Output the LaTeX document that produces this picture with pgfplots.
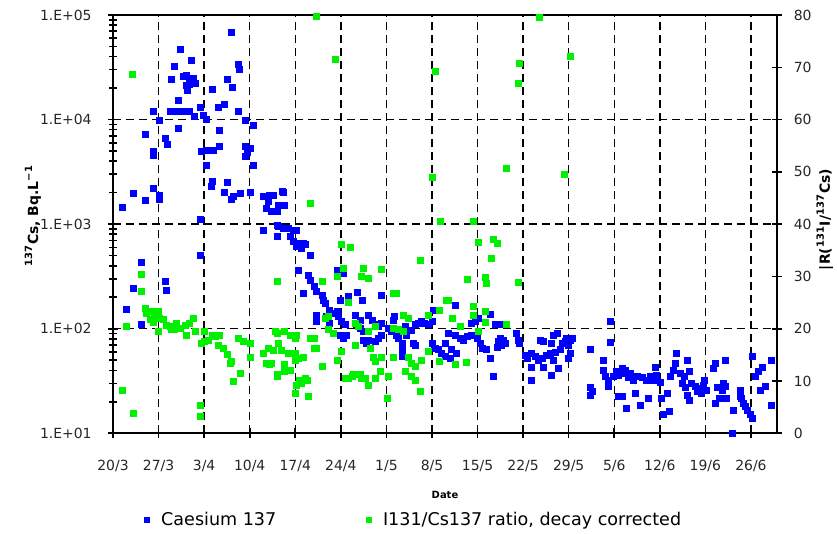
\documentclass[border=0pt]{standalone}
\usepackage{fontspec}
\setmainfont{DejaVu Sans}
\usepackage{pgfplots}
\usepackage{pgfplotstable}
\pgfplotsset{compat=1.18}
\definecolor{cblue}{RGB}{0,0,255}
\definecolor{cgreen}{RGB}{0,240,0}

% Caesium 137 (Bq/L), x = days after 20/3
\pgfplotstableread{
d v
1.5 1460
3.1 1950
5.0 1680
6.2 2200
7.2 1900
7.2 1730
4.3 430
3.1 245
2.1 154
4.3 109
5.0 7230
6.2 12000
7.2 9900
6.2 4950
6.2 4590
8.1 6620
8.4 5800
10.1 8260
10.1 15400
9.0 24300
9.4 32000
10.3 47000
12.1 36600
10.8 25800
11.2 26700
11.8 23900
12.3 25000
11.2 21400
11.8 21800
12.6 22200
11.5 19000
8.8 12100
9.8 12100
10.3 12100
11.1 12100
11.8 12100
12.5 10800
13.4 13200
13.9 11000
14.4 10000
13.6 4950
14.4 5120
15.4 5120
16.4 5500
14.4 3680
16.3 7800
16.2 13200
17.1 14000
15.3 19500
17.5 24300
18.4 20500
18.2 67700
19.2 34000
19.4 30000
19.2 11900
20.4 9900
21.5 8800
20.3 5500
21.1 5300
20.3 4400
21.5 3680
20.6 4900
15.3 2590
15.1 2320
17.5 2480
17.1 2010
18.2 1730
18.5 1830
19.5 1950
21.1 2010
13.4 1100
13.4 507
8.1 286
8.2 234
23.1 1830
24.1 1900
23.9 1640
23.6 1410
24.4 1315
25.2 1315
26.2 2010
26.4 1520
24.7 1900
25.4 1520
23.1 865
25.2 982
25.2 760
26.0 2050
25.4 950
26.2 910
26.9 910
27.7 880
28.2 880
27.2 760
27.7 680
28.2 658
28.7 658
29.2 658
28.2 610
29.0 590
29.5 640
30.3 507
28.5 365
30.0 325
30.3 290
29.2 220
31.0 253
31.3 225
32.1 210
32.3 188
32.6 175
33.3 151
33.6 140
34.4 365
35.4 340
34.9 188
36.2 203
37.5 222
38.3 188
41.3 207
31.3 135
31.3 117
32.8 130
33.3 112
34.4 145
34.6 130
35.1 117
35.7 109
34.9 87
35.4 81
35.9 87
37.2 135
38.0 121
37.4 109
38.0 101
38.5 94
39.2 135
39.8 121
40.3 109
40.8 105
41.3 113
39.2 78
40.3 76
40.8 81
41.3 87
38.5 78
39.0 73
42.3 101
42.8 94
43.1 121
43.3 130
43.6 87
43.8 81
44.4 73
44.4 63
44.4 54
44.9 105
45.4 97
45.9 97
45.1 87
46.4 109
46.9 113
47.4 117
47.9 113
48.5 109
49.0 117
49.2 151
49.0 73
49.5 65
50.0 63
50.5 58
51.0 73
46.1 73
46.4 70
52.6 167
51.5 90
52.6 87
53.3 81
53.8 78
54.4 84
55.1 87
55.9 81
56.4 73
56.7 65
57.4 63
57.9 52
51.0 54
51.8 52
52.0 63
52.8 58
55.4 135
55.6 117
56.1 125
55.1 113
57.9 138
58.7 109
59.5 109
58.4 35
59.0 67
59.5 81
60.0 78
60.3 73
59.2 76
59.7 70
62.0 90
62.3 78
62.5 73
63.3 56
63.6 52
64.3 43
64.3 58
64.9 54
65.4 50
65.9 52
66.1 43
66.6 56
67.2 58
67.7 50
67.9 60
68.7 63
69.0 73
69.5 76
69.7 81
70.2 78
70.5 81
70.0 70
67.4 73
67.7 87
68.2 90
65.6 78
66.1 76
64.2 32.3
67.3 36
68.4 42
70.0 52
70.2 58
73.3 63
73.3 27.5
73.3 23.2
73.6 25
76.4 117
76.4 74
75.4 50
75.4 40
75.6 35
76.1 32
76.1 28
76.9 35
77.4 39
77.7 22.5
78.2 42
78.4 37
77.7 36
79.2 34
80.0 32
80.5 35
81.3 34
82.0 32
82.5 35
83.0 32
83.5 36
83.3 43
79.5 37
78.7 40
78.2 22.5
78.9 17.3
80.2 24
81.0 18.6
82.3 21.5
84.1 31
84.3 21.5
84.6 15
85.1 24
85.4 16.2
85.6 35
86.1 40
86.4 47
86.6 58
87.1 37
87.7 35
87.4 30
87.9 27.5
88.2 23
88.5 20.8
88.2 50
88.5 39
88.9 30
89.4 28
89.7 25
90.2 27
90.4 24
90.7 29
90.9 32
91.2 26
92.3 42
92.5 47
92.8 27.5
93.1 21.5
94.1 50
93.6 26
93.8 30
94.3 21.5
94.1 28
92.5 19.3
95.3 16.7
96.4 26
96.6 21.5
96.9 19.3
97.1 18
97.4 16.7
97.9 15
98.2 14
96.4 22.5
95.1 10
98.2 54
98.7 35
99.2 39
99.7 43
99.4 26
100.2 28
101.2 50
101.2 18.6
}\cstable

% I131/Cs137 ratio, decay corrected
\pgfplotstableread{
d r
3.0 68.7
4.3 30.3
4.3 27.1
2.1 20.4
1.5 8.3
3.1 3.8
4.9 23.9
5.2 22.9
5.9 23.3
6.4 22.6
5.7 21.7
6.2 21.3
7.0 23.3
7.2 22.0
7.7 21.7
8.2 20.7
8.8 20.4
9.5 19.8
10.3 20.1
11.1 20.7
11.8 21.0
12.3 22.0
9.8 21.0
9.0 19.8
6.9 19.4
11.3 18.8
12.6 19.4
14.1 19.4
14.6 17.8
15.2 18.8
15.7 18.5
16.4 18.8
13.6 17.2
14.1 17.5
16.2 16.9
17.0 16.3
17.5 15.0
18.2 13.7
18.0 13.4
19.3 18.2
20.0 17.5
21.1 17.2
21.1 14.6
19.5 11.5
18.5 9.9
13.4 5.4
13.4 3.2
23.1 15.3
23.6 13.4
23.9 16.3
24.6 15.9
24.4 13.4
24.1 13.1
25.2 11.2
25.2 19.1
25.2 29.0
31.3 79.7
34.1 71.5
49.5 69.3
49.1 49.0
30.3 44.0
50.3 40.6
35.1 36.2
36.4 35.6
47.2 33.0
35.4 31.6
34.4 30.1
38.5 31.6
38.2 30.1
39.2 29.6
41.3 31.4
32.1 29.0
36.2 25.1
43.1 26.8
43.6 26.8
51.2 25.5
50.2 23.6
45.4 22.0
44.6 22.6
33.1 22.3
32.6 22.0
48.5 22.6
24.9 19.4
26.4 19.4
27.2 18.8
28.0 18.2
28.2 18.8
30.3 18.2
31.0 18.2
33.1 19.8
33.9 19.1
37.2 21.0
37.7 20.4
39.2 19.4
40.3 20.4
43.1 20.1
43.8 19.8
44.6 19.4
25.4 17.2
25.9 15.9
26.9 15.3
26.4 13.1
28.0 15.3
28.0 14.0
28.5 14.3
29.2 14.6
31.0 16.3
31.2 16.3
32.1 12.7
34.4 14.0
35.1 15.6
37.2 16.9
39.5 16.3
40.0 14.6
40.3 13.7
41.3 14.6
43.1 14.6
45.4 14.6
45.9 13.4
46.4 12.7
47.4 14.0
48.5 15.6
50.2 13.7
25.2 10.8
26.4 11.8
27.2 12.1
28.7 10.2
28.2 9.2
29.0 9.6
29.5 10.5
29.8 10.2
28.0 7.6
30.0 7.0
35.7 10.5
36.2 10.5
36.7 10.8
37.0 11.2
38.0 11.2
38.2 10.5
38.8 10.5
39.2 9.2
40.3 10.5
41.0 11.8
42.3 10.8
42.1 6.7
44.9 11.8
45.9 10.8
46.4 10.2
47.2 8.0
65.5 79.6
62.4 70.8
62.2 67.0
70.2 72.0
60.4 50.7
69.3 49.5
55.4 40.6
56.1 36.6
58.4 37.1
59.1 36.3
58.1 33.5
54.4 29.5
57.2 29.9
57.4 28.7
62.2 28.9
51.5 25.5
52.1 22.0
53.3 20.4
55.4 24.2
55.4 22.6
57.2 23.3
57.2 21.2
60.4 20.9
56.1 19.4
52.6 13.1
54.3 13.5
}\ratiotable

\begin{document}
\begin{tikzpicture}
\useasboundingbox (0,0) rectangle (418.5bp,267bp);
\begin{axis}[
  at={(56.5bp,50.35bp)}, anchor=south west,
  scale only axis, width=332bp, height=209.15bp,
  xmin=0, xmax=102,
  ymode=log, ymin=10, ymax=100000,
  xtick={0,7,...,98},
  xticklabels={20/3,27/3,3/4,10/4,17/4,24/4,1/5,8/5,15/5,22/5,29/5,5/6,12/6,19/6,26/6},
  ytick={10,100,1000,10000,100000},
  yticklabels={1.E+01,1.E+02,1.E+03,1.E+04,1.E+05},
  xtick pos=bottom, ytick pos=left,
  tick align=center,
  major tick length=5bp, minor tick length=4bp,
  every tick/.style={black, line width=0.8bp},
  axis line style={black, line width=1bp},
  grid=major,
  major grid style={black, line width=0.7bp, dash pattern=on 4bp off 2.5bp},
  tick label style={font=\fontsize{7}{8}\selectfont, text=black!85},
  xticklabel style={yshift=-7.5bp},
  yticklabel style={xshift=-4.7bp},
  xlabel={Date},
  xlabel style={font=\bfseries\fontsize{5}{6}\selectfont, at={(axis description cs:0.5,-0.1475)}, anchor=center},
  ylabel={\textsuperscript{137}Cs, Bq.L\textsuperscript{−1}},
  ylabel style={font=\bfseries\fontsize{7}{8}\selectfont, at={(axis description cs:-0.1205,0.52)}, anchor=center, rotate=0},
  clip=false,
]
\addplot[only marks, mark=square*, mark size=1.5bp, color=cblue, mark options={draw=cblue, fill=cblue}] table[x=d, y=v] {\cstable};
\end{axis}
\begin{axis}[
  at={(56.5bp,50.35bp)}, anchor=south west,
  scale only axis, width=332bp, height=209.15bp,
  xmin=0, xmax=102,
  ymin=0, ymax=80,
  axis x line=none,
  axis y line*=right,
  ytick={0,10,...,80},
  tick align=center,
  major tick length=5bp,
  every tick/.style={black, line width=0.8bp},
  axis line style={black, line width=1bp, -},
  tick label style={font=\fontsize{7}{8}\selectfont, text=black!85},
  /pgf/number format/assume math mode=true,
  yticklabel style={xshift=2.4bp},
  ylabel={|R(\textsuperscript{131}I/\textsuperscript{137}Cs)},
  ylabel style={font=\bfseries\fontsize{7}{8}\selectfont, at={(axis description cs:1.072,0.511)}, anchor=center, rotate=0},
  clip=false,
  legend columns=2,
  legend style={at={(0.4545,-0.207)}, anchor=center, draw=none, fill=none,
    font=\fontsize{8.8}{10}\selectfont,
    /tikz/every odd column/.append style={column sep=4bp},
    /tikz/every even column/.append style={column sep=43bp}},
  legend image code/.code={\draw[#1, mark size=1.2bp] plot coordinates {(0cm,0cm)};},
]
\addlegendimage{only marks, mark=square*, color=cblue, mark options={draw=cblue, fill=cblue}}
\addlegendentry{Caesium 137}
\addplot[only marks, mark=square*, mark size=1.5bp, color=cgreen, mark options={draw=cgreen, fill=cgreen}] table[x=d, y=r] {\ratiotable};
\addlegendentry{I131/Cs137 ratio, decay corrected}
\end{axis}
\end{tikzpicture}
\end{document}
